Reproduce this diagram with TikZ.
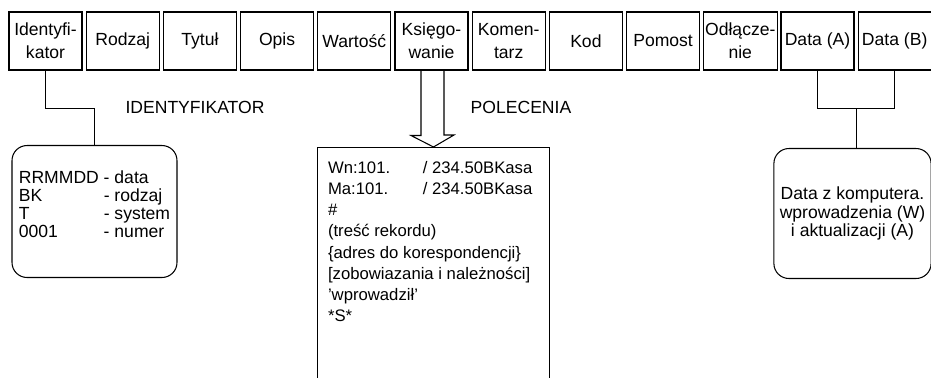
\documentclass[tikz,border=0pt]{standalone}
\usepackage{fontspec}
\setmainfont{Liberation Sans}
\usetikzlibrary{calc}
\begin{document}
\begin{tikzpicture}[x=0.02cm,y=-0.02cm,line width=0.6pt,
		pole/.style={draw,inner sep=1pt,minimum width=1.46cm,minimum height=1.16cm,align=center,font=\fontsize{10}{13}\selectfont},
		ramka/.style={draw,rounded corners=0.3cm,font=\fontsize{10}{10.2}\selectfont}]
	\useasboundingbox (0,0) rectangle (931,378);
	%		Pola rekordu
	\foreach \nazwa/\tekst [count=\i from 0] in {id/{Identyfi-\\kator},rodz/Rodzaj,tyt/Tytuł,opis/Opis,wart/Wartość,ksieg/{Księgo-\\wanie},kom/{Komen-\\tarz},kod/Kod,pom/Pomost,odl/{Odłącze-\\nie},dataA/Data (A),dataB/Data (B)}
		\node[pole] (\nazwa) at (45.5+77.2*\i,41) {\tekst};
	%		Identyfikator
	\node[ramka,anchor=north,minimum width=3.3cm,minimum height=2.64cm] (idbox) at (94.5,145) {\begin{tabular}{@{}l@{ }l@{}}RRMMDD&- data\\BK&- rodzaj\\T&- system\\0001&- numer\\[5pt]\end{tabular}};
	\draw (id.south) -- ++(0,38) -| (idbox.north);
	\node (idlab) at (195,107) {\fontsize{10}{12}\selectfont IDENTYFIKATOR};
	%		Polecenia
	\node[draw,anchor=north,inner xsep=6.2pt,inner ysep=8pt] (polbox) at (433.5,147) {\begin{minipage}[c][5cm][t]{4.22cm}\raggedright\fontsize{9.5}{12}\selectfont
			\mbox{\makebox[54pt][l]{Wn:101.}/ 234.50BKasa}\\
			\mbox{\makebox[54pt][l]{Ma:101.}/ 234.50BKasa}\\
			\#\\
			(treść rekordu)\\
			\{adres do korespondencji\}\\
			\mbox{[zobowiazania i należności]}\\
			'wprowadził'\\
			{*S*}
		\end{minipage}};
	\draw (ksieg.south) ++(-10.5,0) -- ++(0,65) -- ++(-10,0) -- (polbox.north) -- ++(20.5,-12) -- ++(-10,0) -- ++(0,-65);
	\node (pollab) at (521,107) {\fontsize{10}{12}\selectfont POLECENIA};
	%		Daty
	\node[ramka,anchor=north,minimum width=3.1cm,minimum height=2.6cm,align=center,font=\fontsize{10}{10.5}\selectfont] (databox) at (852.5,148) {Data z komputera.\\wprowadzenia (W)\\i aktualizacji (A)};
	\draw (dataA.south) -- ++(0,38) -| (dataB.south);
	\coordinate (klamra) at ($(dataA.south)!0.5!(dataB.south)+(0,38)$);
	\draw (klamra) -- (klamra |- databox.north);
\end{tikzpicture}
\end{document}
